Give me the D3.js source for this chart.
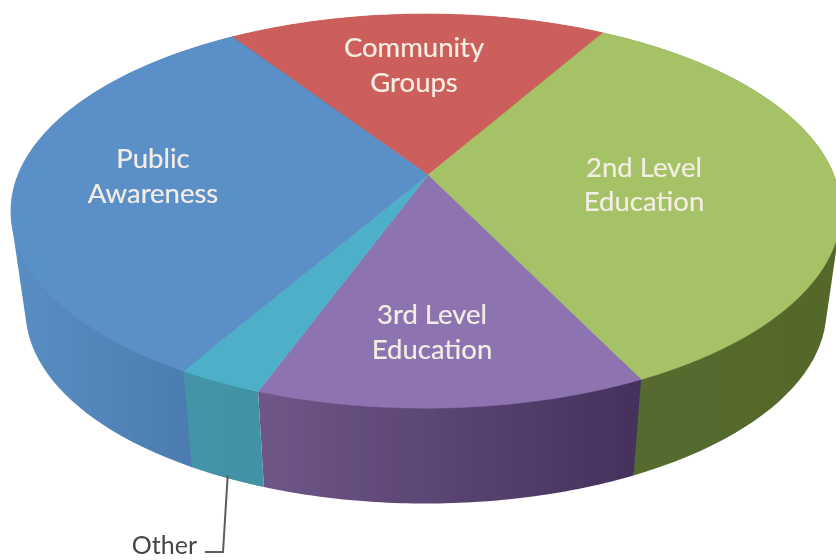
<!DOCTYPE html>
<html><head><meta charset="utf-8">
<script src="https://cdn.jsdelivr.net/npm/d3@7"></script>
<style>html,body{margin:0;padding:0;background:#fff}svg{display:block}text{font-family:Lato,"Open Sans",sans-serif}</style>
</head><body><svg id="c" width="836" height="560"></svg>
<script>
// DATA
const categories = ["Community Groups","2nd Level Education","3rd Level Education","Other","Public Awareness"];
const values = [17.6,34.5,12.8,2.8,32.3];
const labelLines = [["Community","Groups"],["2nd Level","Education"],["3rd Level","Education"],[],["Public","Awareness"]];
const topColors = ["#cc5f5b","#a6c266","#8e73b1","#4eb0c8","#5a8fc8"];
const wallFrom = ["#a04a48","#566b30","#6f5788","#4493a8","#5a8ec4"];
const wallTo = ["#a04a48","#536729","#44315c","#4293a5","#4878ab"];

// LAYOUT
const W=836,H=560, apex={x:428,y:175}, A=408, B=190.5, k=0.183, j=0.005;
const depth=100, lowerFx=0.965, lowerFy=0.98, startDeg=-33.5;
const wallOrder=[0,4,1,2,3];
const labelPos=[[414,57,35],[644,177,34],[432,324,35],null,[153,168,35]];
const svg=d3.select("#c");
const defs=svg.append("defs");
defs.append("filter").attr("id","soft").attr("x","-5%").attr("y","-5%").attr("width","110%").attr("height","110%")
  .append("feGaussianBlur").attr("stdDeviation",0.6);
svg.append("rect").attr("width",W).attr("height",H).attr("fill","#fff");
const root=svg.append("g").attr("filter","url(#soft)");

function project(theta,lower){
  const sn=Math.sin(theta),cs=Math.cos(theta);
  const s=1/(1+k*cs+j*sn);
  return [apex.x+(lower?lowerFx:1)*A*sn*s, apex.y+(lower?depth:0)-(lower?lowerFy:1)*B*cs*s];
}
const start=startDeg*Math.PI/180;
const arcs=d3.pie().sort(null).startAngle(start).endAngle(start+2*Math.PI)(values);
const line=d3.line();
const sample=(a,b)=>d3.range(0,61).map(i=>a+(b-a)*i/60);

// walls: the hull of both rims gives the tangent silhouette of the cylinder; the top face hides the rest
wallOrder.forEach(i=>{
  const d=arcs[i];
  const th=sample(d.startAngle,d.endAngle);
  const topPts=th.map(t=>project(t,false));
  const lowPts=th.map(t=>project(t,true));
  const xs=topPts.map(p=>p[0]);
  const g=defs.append("linearGradient").attr("id","w"+i).attr("gradientUnits","userSpaceOnUse")
    .attr("x1",d3.min(xs)).attr("x2",d3.max(xs)).attr("y1",0).attr("y2",0);
  g.append("stop").attr("offset",0).attr("stop-color",wallFrom[i]);
  g.append("stop").attr("offset",1).attr("stop-color",wallTo[i]);
  root.append("path").attr("d",line(d3.polygonHull(topPts.concat(lowPts)))+"Z").attr("fill",`url(#w${i})`);
});
// top face
arcs.forEach((d,i)=>{
  const pts=[[apex.x,apex.y]].concat(sample(d.startAngle,d.endAngle).map(t=>project(t,false)));
  root.append("path").attr("d",line(pts)+"Z").attr("fill",topColors[i]).attr("stroke",topColors[i]).attr("stroke-width",0.5);
});
// labels
labelLines.forEach((ls,i)=>{
  if(!labelPos[i])return;
  const [x,y,dy]=labelPos[i];
  ls.forEach((t,n)=>root.append("text").attr("x",x).attr("y",y+n*dy).attr("text-anchor","middle")
    .attr("font-size",27.5).attr("fill","#f3ede4").attr("stroke","#f3ede4").attr("stroke-width",0.2).text(t));
});
// leader for Other
const o=arcs[3], ob=project((o.startAngle+o.endAngle)/2,true);
root.append("path").attr("d",line([[ob[0]+1,ob[1]-3],[223,552],[205,552]])).attr("fill","none").attr("stroke","#5c5c5c").attr("stroke-width",2);
root.append("text").attr("x",197).attr("y",554).attr("text-anchor","end").attr("font-size",25).attr("fill","#444").text(categories[3]);
</script></body></html>
